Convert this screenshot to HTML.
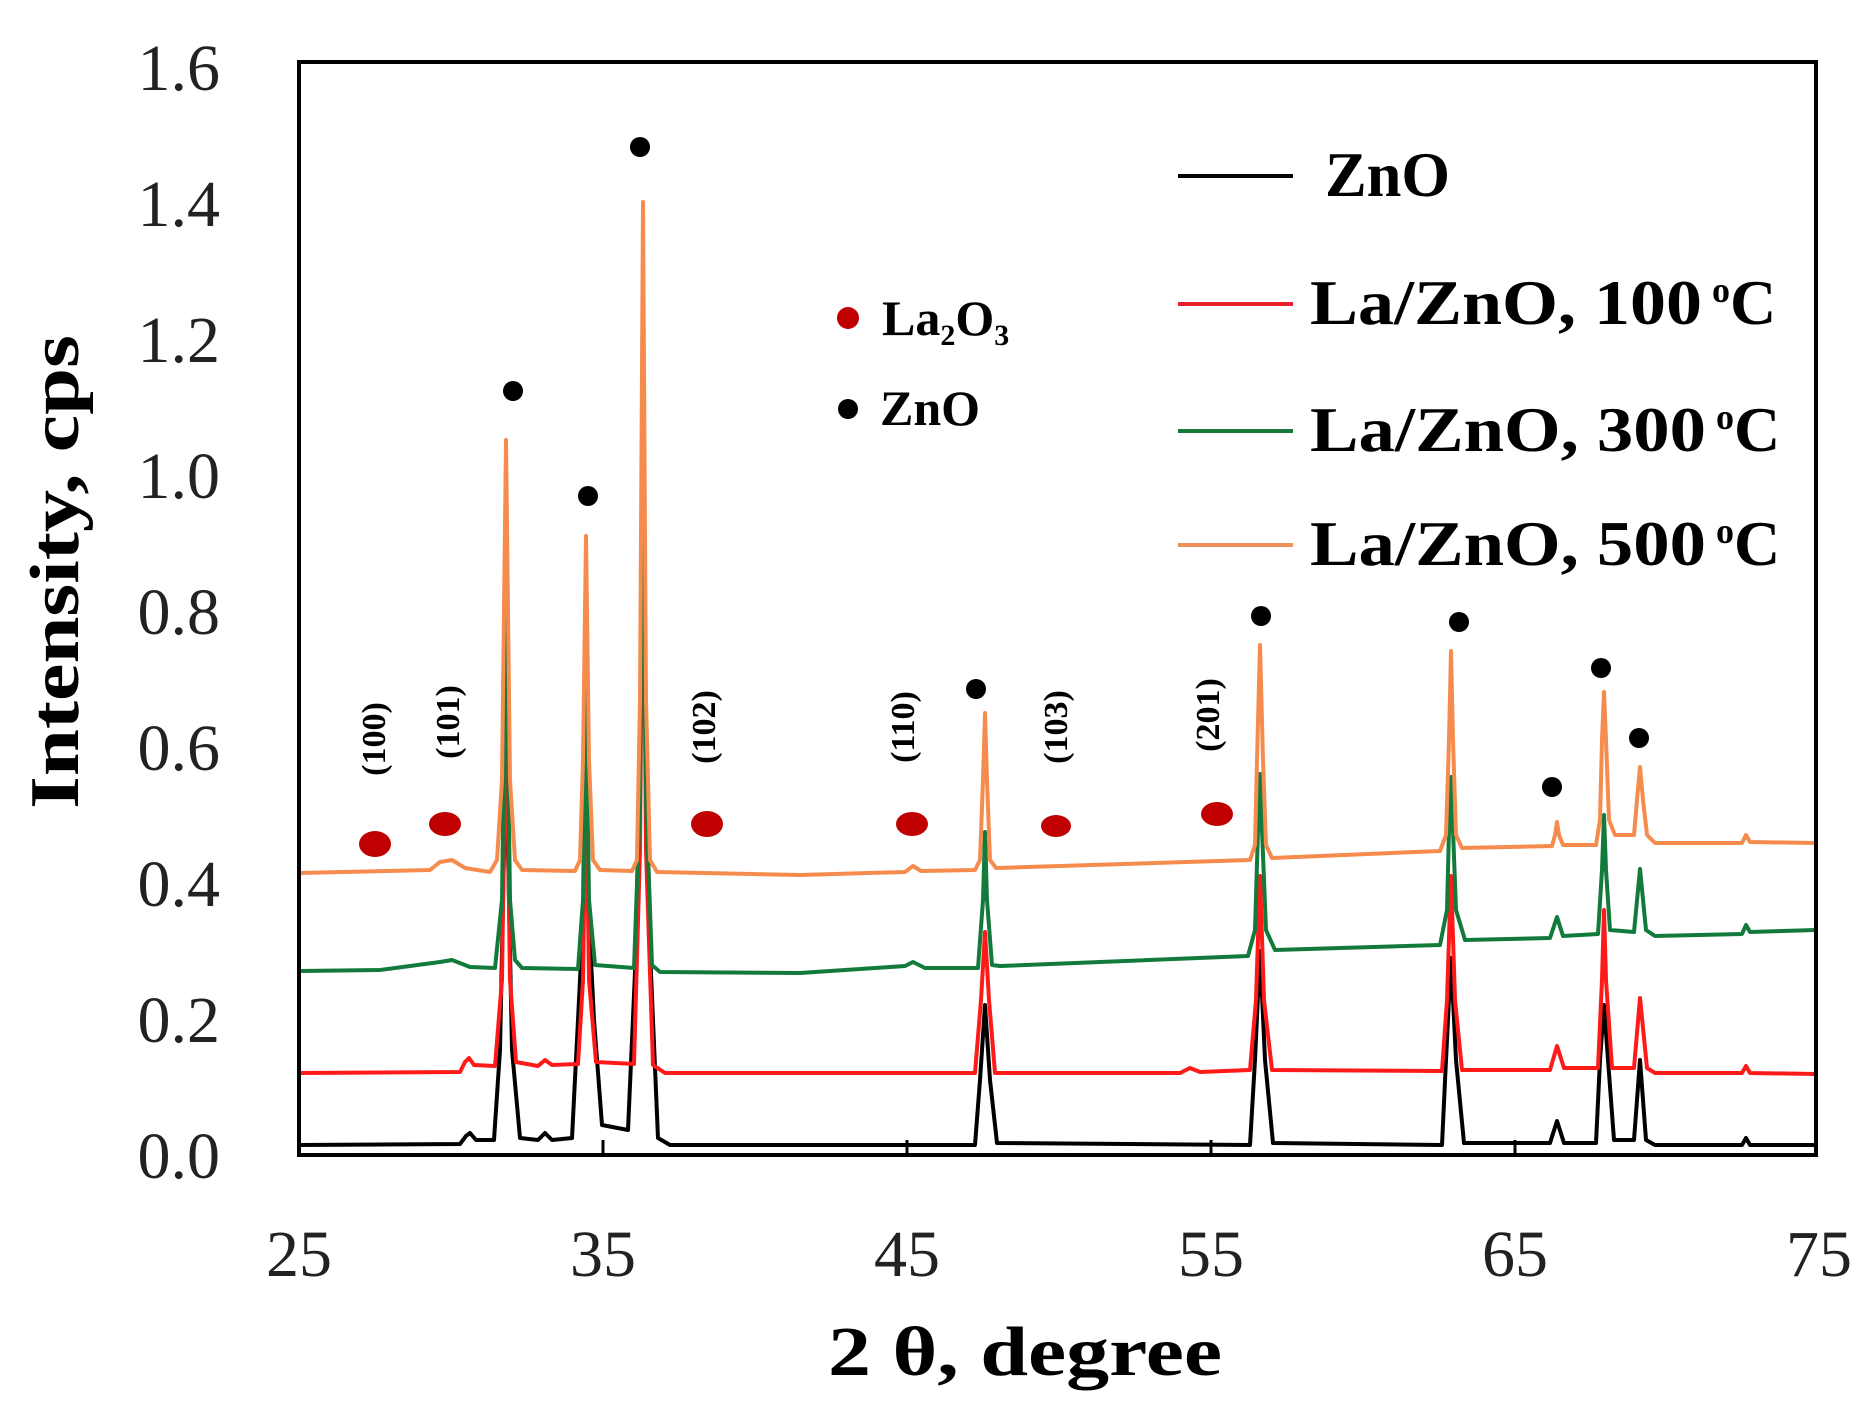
<!DOCTYPE html>
<html><head><meta charset="utf-8"><style>
html,body{margin:0;padding:0;background:#fff;}
svg{display:block;}
text{font-family:"Liberation Serif",serif;}
</style></head><body>
<svg width="1869" height="1427" viewBox="0 0 1869 1427" xmlns="http://www.w3.org/2000/svg">
<rect width="1869" height="1427" fill="#fff"/>
<g fill="none" stroke-width="4" stroke-linejoin="round">
<path stroke="#000" d="M299,1145 L460,1144 L466,1136 L470,1133 L476,1140 L494,1140 L500,1050 L506,753 L512,1050 L520,1138 L538,1140 L545,1133 L552,1140 L572,1138 L578,1020 L586,860 L594,1020 L602,1125 L628,1130 L636,950 L643,560 L650,950 L658,1138 L670,1145 L975,1145 L980,1080 L985,1005 L990,1080 L997,1143 L1250,1145 L1255,1060 L1260,951 L1265,1060 L1273,1143 L1442,1145 L1446,1060 L1451,958 L1456,1060 L1464,1143 L1550,1143 L1557,1121 L1564,1143 L1596,1143 L1600,1060 L1604,1005 L1608,1060 L1614,1140 L1634,1140 L1640,1060 L1646,1140 L1655,1145 L1742,1145 L1746,1138 L1750,1145 L1816,1145"/>
<path stroke="#ff1a1a" d="M299,1073 L460,1072 L465,1062 L469,1058 L474,1065 L495,1066 L502,980 L506,685 L510,980 L516,1062 L538,1066 L545,1060 L552,1065 L578,1064 L583,980 L586,770 L589,980 L596,1062 L634,1064 L640,850 L643,470 L646,850 L653,1065 L665,1073 L975,1073 L981,1000 L985,932 L989,1000 L995,1073 L1180,1073 L1190,1068 L1200,1072 L1250,1070 L1256,1000 L1260,876 L1264,1000 L1272,1070 L1442,1071 L1447,1000 L1451,876 L1455,1000 L1462,1070 L1550,1070 L1557,1046 L1564,1068 L1598,1068 L1602,980 L1604,910 L1606,980 L1612,1068 L1634,1068 L1640,998 L1647,1068 L1655,1073 L1742,1073 L1746,1066 L1750,1073 L1816,1074"/>
<path stroke="#127a3a" d="M299,971 L380,970 L440,962 L452,960 L470,967 L495,968 L502,900 L506,604 L510,900 L515,960 L522,968 L578,969 L583,900 L586,685 L589,900 L595,965 L634,968 L640,800 L643,400 L646,800 L652,965 L660,972 L800,973 L905,966 L913,962 L925,968 L978,968 L983,900 L985,832 L987,900 L992,965 L1000,966 L1248,956 L1255,930 L1258,830 L1260,774 L1262,830 L1266,930 L1275,950 L1440,945 L1447,910 L1449,830 L1451,777 L1453,830 L1456,910 L1465,940 L1550,938 L1557,917 L1563,936 L1598,934 L1602,870 L1604,815 L1606,870 L1610,930 L1634,932 L1640,869 L1646,930 L1655,936 L1742,934 L1746,925 L1750,932 L1816,930"/>
<path stroke="#f58c4e" d="M299,873 L430,870 L440,862 L452,860 L465,868 L490,872 L497,860 L502,780 L506,440 L510,780 L515,860 L522,870 L575,871 L580,860 L583,760 L586,536 L589,760 L593,860 L600,870 L632,871 L637,860 L640,700 L643,202 L646,700 L650,860 L657,872 L800,875 L905,872 L913,866 L921,871 L975,870 L980,860 L983,780 L985,713 L987,780 L990,860 L996,868 L1250,860 L1255,845 L1257,760 L1260,645 L1263,760 L1266,845 L1272,858 L1440,851 L1446,835 L1449,740 L1451,651 L1453,740 L1456,835 L1462,848 L1552,846 L1555,835 L1557,822 L1559,835 L1563,845 L1596,845 L1600,820 L1602,740 L1604,692 L1606,740 L1609,820 L1615,835 L1634,835 L1637,800 L1640,767 L1643,800 L1647,835 L1655,843 L1742,843 L1746,835 L1750,842 L1816,843"/>
</g>
<rect x="299" y="62" width="1517" height="1093" fill="none" stroke="#000" stroke-width="4"/>
<g stroke="#000" stroke-width="3">
<line x1="603" y1="1155" x2="603" y2="1140"/><line x1="907" y1="1155" x2="907" y2="1140"/>
<line x1="1211" y1="1155" x2="1211" y2="1140"/><line x1="1515" y1="1155" x2="1515" y2="1140"/>
</g>
<g font-size="66" text-anchor="end" fill="#222">
<text x="220" y="1178">0.0</text><text x="220" y="1042">0.2</text><text x="220" y="906">0.4</text>
<text x="220" y="770">0.6</text><text x="220" y="634">0.8</text><text x="220" y="498">1.0</text>
<text x="220" y="362">1.2</text><text x="220" y="226">1.4</text><text x="220" y="90">1.6</text>
</g>
<g font-size="66" text-anchor="middle" fill="#222">
<text x="299" y="1276">25</text><text x="603" y="1276">35</text><text x="907" y="1276">45</text>
<text x="1211" y="1276">55</text><text x="1515" y="1276">65</text><text x="1819" y="1276">75</text>
</g>
<text x="828" y="1375" font-size="70" font-weight="bold" textLength="394" lengthAdjust="spacingAndGlyphs">2 θ, degree</text>
<text transform="translate(78,809) rotate(-90)" font-size="70" font-weight="bold" textLength="474" lengthAdjust="spacingAndGlyphs">Intensity, cps</text>
<g stroke-width="4">
<line x1="1178" y1="176" x2="1293" y2="176" stroke="#000"/>
<line x1="1178" y1="304" x2="1293" y2="304" stroke="#e8202a"/>
<line x1="1178" y1="431" x2="1293" y2="431" stroke="#1a7a3c"/>
<line x1="1178" y1="545" x2="1293" y2="545" stroke="#f0915a"/>
</g>
<g font-size="64" font-weight="bold" fill="#000">
<text x="1325" y="196" textLength="125" lengthAdjust="spacingAndGlyphs">ZnO</text>
<text x="1310" y="324" textLength="392" lengthAdjust="spacingAndGlyphs">La/ZnO, 100 </text>
<text x="1310" y="451" textLength="396" lengthAdjust="spacingAndGlyphs">La/ZnO, 300 </text>
<text x="1310" y="565" textLength="396" lengthAdjust="spacingAndGlyphs">La/ZnO, 500 </text>
<text x="1712" y="324"><tspan font-size="36" dy="-22">o</tspan><tspan dy="22">C</tspan></text>
<text x="1716" y="451"><tspan font-size="36" dy="-22">o</tspan><tspan dy="22">C</tspan></text>
<text x="1716" y="565"><tspan font-size="36" dy="-22">o</tspan><tspan dy="22">C</tspan></text>
</g>
<circle cx="848" cy="318" r="11" fill="#c00000"/>
<circle cx="848" cy="409" r="10" fill="#000"/>
<g font-size="50" font-weight="bold">
<text x="882" y="335">La<tspan font-size="30" dy="10">2</tspan><tspan dy="-10">O</tspan><tspan font-size="30" dy="10">3</tspan></text>
<text x="880" y="425">ZnO</text>
</g>
<g fill="#c00000">
<ellipse cx="375" cy="844" rx="16" ry="13"/><ellipse cx="445" cy="824" rx="16" ry="12"/>
<ellipse cx="707" cy="824" rx="16" ry="13"/><ellipse cx="912" cy="824" rx="16" ry="12"/>
<ellipse cx="1056" cy="826" rx="15" ry="11"/><ellipse cx="1217" cy="814" rx="16" ry="12"/>
</g>
<g font-size="34" font-weight="bold" text-anchor="middle">
<text transform="translate(385,739) rotate(-90)">(100)</text>
<text transform="translate(459,722) rotate(-90)">(101)</text>
<text transform="translate(715,727) rotate(-90)">(102)</text>
<text transform="translate(914,727) rotate(-90)">(110)</text>
<text transform="translate(1067,727) rotate(-90)">(103)</text>
<text transform="translate(1219,715) rotate(-90)">(201)</text>
</g>
<g fill="#000">
<circle cx="513" cy="391" r="10"/><circle cx="588" cy="496" r="10"/><circle cx="640" cy="147" r="10"/>
<circle cx="976" cy="689" r="10"/><circle cx="1261" cy="616" r="10"/><circle cx="1459" cy="622" r="10"/>
<circle cx="1552" cy="787" r="10"/><circle cx="1601" cy="668" r="10"/><circle cx="1639" cy="738" r="10"/>
</g>
</svg>
</body></html>
